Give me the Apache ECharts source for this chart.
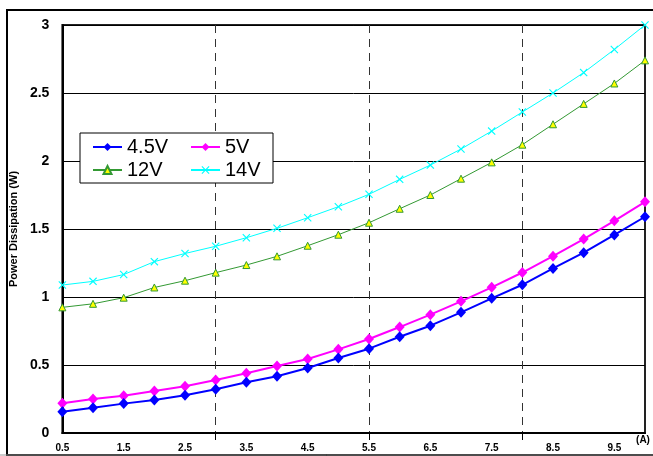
<!DOCTYPE html>
<html>
<head>
<meta charset="utf-8">
<script src="https://cdn.jsdelivr.net/npm/echarts@6/dist/echarts.min.js"></script>
<style>html,body{margin:0;padding:0;background:#fff;}#c{width:653px;height:456px;}</style>
</head>
<body>
<div id="c"></div>
<script>
var categories = ['0.5','1','1.5','2','2.5','3','3.5','4','4.5','5','5.5','6','6.5','7','7.5','8','8.5','9','9.5','10'];
var s45V = [0.157,0.186,0.216,0.243,0.277,0.321,0.373,0.417,0.478,0.551,0.620,0.708,0.789,0.887,0.990,1.090,1.210,1.326,1.456,1.590];
var s5V  = [0.218,0.250,0.274,0.309,0.343,0.390,0.439,0.493,0.544,0.615,0.691,0.779,0.870,0.968,1.071,1.180,1.300,1.426,1.560,1.700];
var s12V = [0.924,0.950,0.995,1.070,1.120,1.179,1.235,1.299,1.377,1.458,1.546,1.649,1.750,1.870,1.990,2.120,2.270,2.420,2.570,2.740];
var s14V = [1.088,1.115,1.165,1.260,1.320,1.373,1.436,1.505,1.583,1.664,1.755,1.865,1.970,2.088,2.220,2.360,2.500,2.650,2.820,3.000];
var yAxisName = 'Power Dissipation (W)';
var xUnit = '(A)';
var dashedIdx = [5, 10, 15];

var FONT = "'Liberation Sans', Arial, sans-serif";
var crossPath = 'path://M0,1L1,0L5,4L9,0L10,1L6,5L10,9L9,10L5,6L1,10L0,9L4,5Z';

var chart = echarts.init(document.getElementById('c'), null, {renderer: 'canvas'});
chart.setOption({
  animation: false,
  backgroundColor: '#fff',
  grid: {left: 62, right: 8, top: 25, bottom: 23, show: true, borderColor: '#222', borderWidth: 2, backgroundColor: 'transparent'},
  xAxis: {
    type: 'category',
    data: categories,
    boundaryGap: false,
    axisLine: {lineStyle: {color: '#000', width: 2}},
    axisTick: {show: true, length: 7, interval: function (i) { return dashedIdx.indexOf(i) >= 0; }, lineStyle: {color: '#000', width: 1}},
    axisLabel: {
      interval: function (i) { return i % 2 === 0 && i < 19; },
      fontFamily: FONT, fontWeight: 'bold', fontSize: 10, color: '#000', margin: 10
    },
    splitLine: {show: true, interval: function (i) { return dashedIdx.indexOf(i) >= 0; }, lineStyle: {color: '#333', width: 1, type: [8, 6]}}
  },
  yAxis: {
    type: 'value',
    min: 0, max: 3, interval: 0.5,
    name: yAxisName,
    nameLocation: 'middle',
    nameGap: 34,
    nameTextStyle: {fontFamily: FONT, fontWeight: 'bold', fontSize: 11, color: '#000'},
    axisLine: {show: true, lineStyle: {color: '#000', width: 2}},
    axisTick: {show: false},
    axisLabel: {fontFamily: FONT, fontWeight: 'bold', fontSize: 14, color: '#000', margin: 13},
    splitLine: {show: true, lineStyle: {color: '#000', width: 1}}
  },
  legend: [
    {
      data: ['4.5V', '12V'], orient: 'vertical', left: 92, top: 137, z: 60, padding: 0,
      itemWidth: 29, itemHeight: 10, itemGap: 3,
      textStyle: {fontFamily: FONT, fontSize: 20, color: '#000'}
    },
    {
      data: ['5V', '14V'], orient: 'vertical', left: 190, top: 137, z: 60, padding: 0,
      itemWidth: 29, itemHeight: 10, itemGap: 3,
      textStyle: {fontFamily: FONT, fontSize: 20, color: '#000'}
    }
  ],
  graphic: [
    {type: 'rect', shape: {x: 7, y: 10, width: 700, height: 445}, style: {fill: 'none', stroke: '#000', lineWidth: 2}, z: 100, silent: true},
    {type: 'line', shape: {x1: 0, y1: 455, x2: 653, y2: 455}, style: {stroke: '#999', lineWidth: 1}, z: 101, silent: true},
    {type: 'rect', shape: {x: 80, y: 133, width: 193, height: 50}, style: {fill: '#fff', stroke: '#000', lineWidth: 1}, z: 50, silent: true},
    {type: 'text', x: 643, y: 440, style: {text: xUnit, font: "bold 10px 'Liberation Sans', Arial, sans-serif", fill: '#000', align: 'center', verticalAlign: 'middle'}, z: 100}
  ],
  series: [
    {name: '14V', type: 'line', data: s14V, symbol: crossPath, symbolSize: 8,
      lineStyle: {color: '#00FFFF', width: 1}, itemStyle: {color: '#00FFFF'}, z: 3},
    {name: '12V', type: 'line', data: s12V, symbol: 'triangle', symbolSize: 7,
      lineStyle: {color: '#339933', width: 1}, itemStyle: {color: '#FFFF00', borderColor: '#339933', borderWidth: 1}, z: 3},
    {name: '5V', type: 'line', data: s5V, symbol: 'diamond', symbolSize: [10, 11],
      lineStyle: {color: '#FF00FF', width: 2}, itemStyle: {color: '#FF00FF'}, z: 4},
    {name: '4.5V', type: 'line', data: s45V, symbol: 'diamond', symbolSize: [10, 11],
      lineStyle: {color: '#0000FF', width: 2}, itemStyle: {color: '#0000FF'}, z: 5}
  ]
});
</script>
</body>
</html>
